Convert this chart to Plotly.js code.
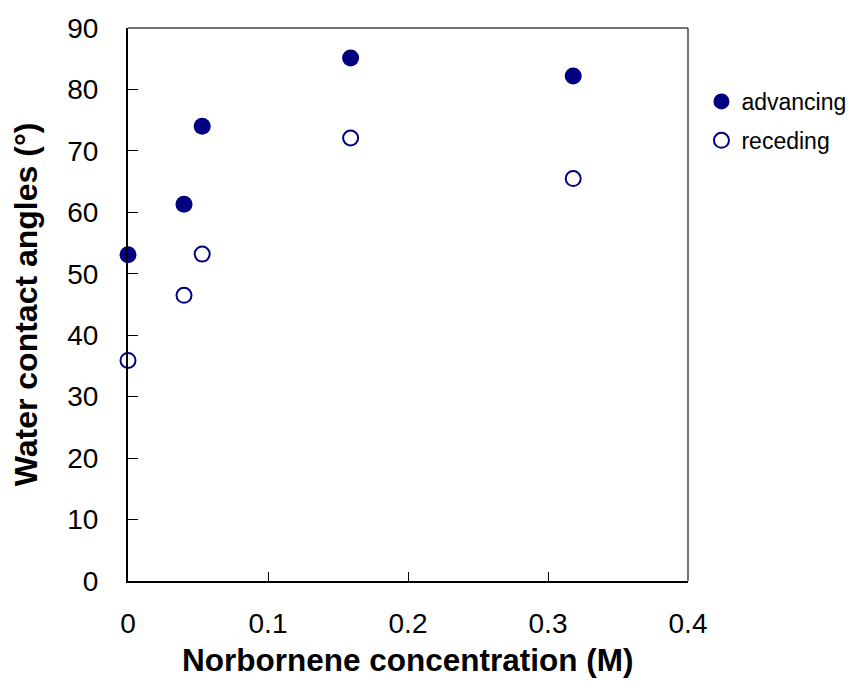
<!DOCTYPE html>
<html><head><meta charset="utf-8">
<script src="https://cdn.plot.ly/plotly-3.0.1.min.js"></script>
<style>html,body{margin:0;padding:0;background:#fff}#c{width:864px;height:698px}</style>
</head><body><div id="c"></div>
<script>
const conc = [0, 0.04, 0.053, 0.159, 0.318];
const advancing = [53.1, 61.3, 74.0, 85.1, 82.2];
const receding = [35.9, 46.5, 53.2, 72.1, 65.5];
const xTicks = [0, 0.1, 0.2, 0.3, 0.4];
const xTickText = ['0', '0.1', '0.2', '0.3', '0.4'];
const yTicks = [0, 10, 20, 30, 40, 50, 60, 70, 80, 90];
const xTitle = 'Norbornene concentration (M)';
const yTitle = 'Water contact angles (°)';

const navy = '#000080';
const traces = [
  {x: conc, y: advancing, name: 'advancing', legendgroup: 'a', type: 'scatter', mode: 'markers',
   marker: {color: navy, size: 17, symbol: 'circle', line: {width: 0}}, cliponaxis: false},
  {x: conc, y: receding, name: 'receding', legendgroup: 'r', type: 'scatter', mode: 'markers',
   marker: {color: '#ffffff', size: 15, symbol: 'circle', line: {color: navy, width: 2}}, cliponaxis: false}
];
const font = {family: 'Liberation Sans, Arial, sans-serif', color: '#000'};
const layout = {
  width: 864, height: 698,
  margin: {l: 128, r: 176, t: 28, b: 117},
  paper_bgcolor: '#fff', plot_bgcolor: '#fff',
  font: font,
  showlegend: true,
  legend: {x: 1.024, y: 0.906, xanchor: 'left', yanchor: 'top', font: {size: 23, family: font.family},
           itemwidth: 30, tracegroupgap: 6, bgcolor: 'rgba(0,0,0,0)', borderwidth: 0},
  xaxis: {range: [0, 0.4], tickvals: xTicks, ticktext: xTickText, ticks: 'inside', ticklen: 9,
          tickcolor: '#000', tickwidth: 1, showline: true, linecolor: '#000', linewidth: 2,
          showgrid: false, zeroline: false, tickfont: {size: 28}, ticklabelstandoff: 16},
  yaxis: {range: [0, 90], tickvals: yTicks, ticks: 'inside', ticklen: 10,
          tickcolor: '#000', tickwidth: 1, showline: true, linecolor: '#000', linewidth: 2,
          showgrid: false, zeroline: false, tickfont: {size: 28}, ticklabelstandoff: 22,
          title: {text: '<b>' + yTitle + '</b>', font: {size: 32}, standoff: 20}},
  annotations: [
    {text: '<b>' + xTitle + '</b>', xref: 'paper', yref: 'paper', x: 0.5, y: -0.1429,
     xanchor: 'center', yanchor: 'middle', showarrow: false, font: {size: 31.5}}
  ],
  shapes: [
    {type: 'line', xref: 'paper', yref: 'paper', x0: 0, x1: 1, y0: 1, y1: 1, line: {color: '#444', width: 1.5}},
    {type: 'line', xref: 'paper', yref: 'paper', x0: 1, x1: 1, y0: 0, y1: 1, line: {color: '#444', width: 1.5}}
  ]
};
Plotly.newPlot('c', traces, layout, {staticPlot: true});
</script></body></html>
